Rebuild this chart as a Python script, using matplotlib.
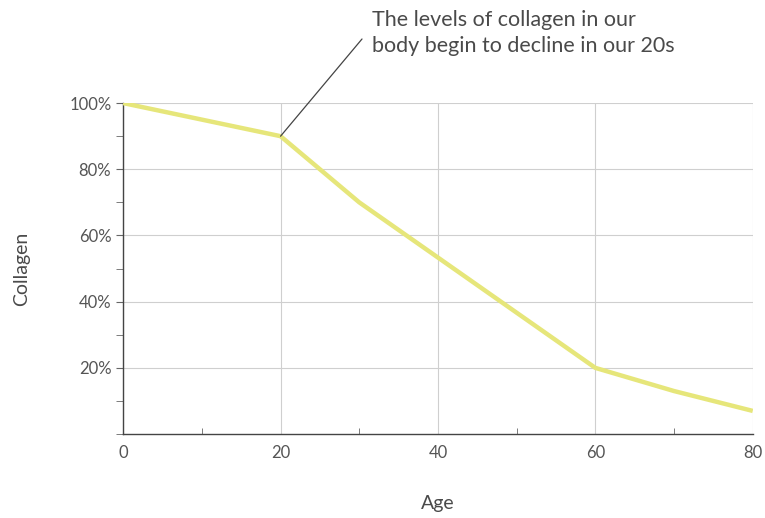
import numpy as np
from matplotlib import pyplot as plt
from matplotlib.ticker import MultipleLocator, FuncFormatter

# collagen level by age
age = [0, 20, 30, 60, 70, 80]
collagen = [100, 90, 70, 20, 13, 7]

x_ticks = [0, 20, 40, 60, 80]
y_ticks = [20, 40, 60, 80, 100]
note = "The levels of collagen in our\nbody begin to decline in our 20s"

plt.rcParams['font.family'] = ['Lato', 'DejaVu Sans']
text_col = '#4a4a4a'

fig = plt.figure(figsize=(7.65, 5.18), dpi=100)
ax = fig.add_axes([0.161, 0.162, 0.823, 0.639])

ax.plot(age, collagen, color='#e6e67a', lw=3.2, solid_capstyle='butt', zorder=3)

ax.set_xlim(0, 80)
ax.set_ylim(0, 100)
ax.set_xticks(x_ticks)
ax.set_yticks(y_ticks)
ax.xaxis.set_minor_locator(MultipleLocator(10))
ax.yaxis.set_minor_locator(MultipleLocator(10))
ax.yaxis.set_major_formatter(FuncFormatter(lambda v, p: f"{v:.0f}%"))

ax.grid(True, which='major', color='#cfcfcf', lw=0.8)
for s in ['top', 'right']:
    ax.spines[s].set_visible(False)
for s in ['left', 'bottom']:
    ax.spines[s].set_color('#444444')
    ax.spines[s].set_linewidth(1.0)

ax.tick_params(axis='x', which='major', length=0, pad=8, labelsize=12, labelcolor='#555555')
ax.tick_params(axis='x', which='minor', direction='in', length=4, color='#666666')
ax.tick_params(axis='y', which='both', direction='out', length=5, color='#666666',
               labelsize=12, labelcolor='#555555')

ax.set_xlabel("Age", fontsize=14, color=text_col, labelpad=24)
ax.set_ylabel("Collagen", fontsize=14, color=text_col, labelpad=28)

# leader line from the 20s point up to the note
ax.annotate('', xy=(20, 90), xytext=(362 / 765, 1 - 39 / 518),
            textcoords='figure fraction', annotation_clip=False,
            arrowprops=dict(arrowstyle='-', color='#444444', lw=0.9,
                            shrinkA=0, shrinkB=0))
fig.text(372 / 765, 1 - 10 / 518, note, ha='left', va='top',
         fontsize=15.5, color=text_col, linespacing=1.4)

fig.savefig('out.png', dpi=100)
